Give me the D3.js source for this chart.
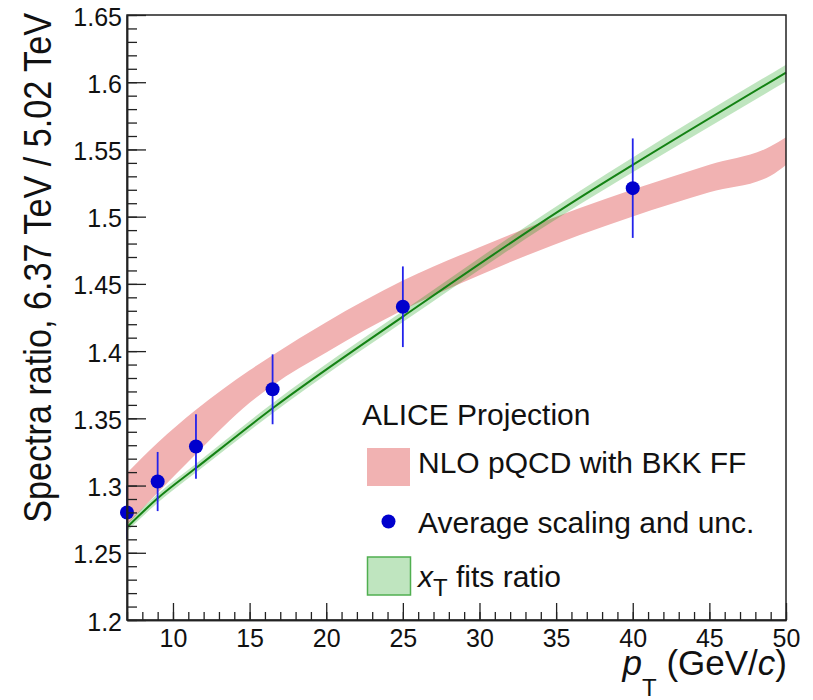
<!DOCTYPE html>
<html>
<head>
<meta charset="utf-8">
<script src="https://cdn.jsdelivr.net/npm/d3@7"></script>
<style>
  html, body { margin: 0; padding: 0; background: #fff; }
  svg { display: block; font-family: "Liberation Sans", Arial, Helvetica, sans-serif; }
</style>
</head>
<body>
<svg id="chart" width="813" height="700"></svg>
<script>
// Averaged scaling points with their uncertainties
const ptPoints    = [7, 9, 11.5, 16.5, 25, 40];
const ratioPoints = [1.280, 1.303, 1.329, 1.3716, 1.433, 1.5212];
const ratioErrors = [0.020, 0.022, 0.024, 0.026, 0.030, 0.037];

// NLO pQCD (BKK FF) band edges
const nloPt   = [7, 9, 11.5, 15, 16.5, 20, 25, 30, 36.5, 40, 45, 49, 50];
const nloHigh = [1.3094, 1.3318, 1.3563, 1.3857, 1.3970, 1.4215, 1.4525, 1.4773, 1.5062, 1.5202, 1.5387, 1.5523, 1.5590];
const nloLow  = [1.2707, 1.2947, 1.3235, 1.3615, 1.3745, 1.3990, 1.4305, 1.4565, 1.4862, 1.5002, 1.5182, 1.5305, 1.5385];

// xT fits ratio: central curve and its band
const xtPt   = [7, 9, 11.5, 16.5, 25, 36.5, 40, 50];
const xtMid  = [1.2690, 1.2905, 1.3130, 1.3575, 1.4257, 1.5138, 1.5385, 1.6072];
const xtHigh = [1.2720, 1.2937, 1.3163, 1.3612, 1.4298, 1.5188, 1.5440, 1.6130];
const xtLow  = [1.2660, 1.2873, 1.3097, 1.3538, 1.4216, 1.5088, 1.5330, 1.6005];

// Axis ticks
const xMajorTicks = [10, 15, 20, 25, 30, 35, 40, 45, 50];
const xMinorTicks = d3.range(7, 51, 1);
const yMajorTicks = [1.2, 1.25, 1.3, 1.35, 1.4, 1.45, 1.5, 1.55, 1.6, 1.65];
const yMinorTicks = d3.range(120, 166, 1).map(v => v / 100);

// Legend
const legendHeader = "ALICE Projection";
const legendLabels = ["NLO pQCD with BKK FF", "Average scaling and unc.", "fits ratio"];

const pinkFill   = "rgb(241,178,178)";
const greenFill  = "rgb(0,153,0)";
const greenLine  = "rgb(20,130,20)";
const markerCol  = "rgb(0,0,205)";
const errCol     = "rgb(35,35,235)";

const svg = d3.select("#chart");
const frame = { left: 127, right: 786, top: 15, bottom: 620 };

const x = d3.scaleLinear().domain([7, 50]).range([frame.left, frame.right]);
const y = d3.scaleLinear().domain([1.2, 1.65]).range([frame.bottom, frame.top]);

const plot = svg.append("g");

// NLO band
const nloData = nloPt.map((p, i) => ({ p, hi: nloHigh[i], lo: nloLow[i] }));
plot.append("path")
  .datum(nloData)
  .attr("fill", pinkFill)
  .attr("d", d3.area().curve(d3.curveMonotoneX)
    .x(d => x(d.p)).y0(d => y(d.lo)).y1(d => y(d.hi)));

// xT band (translucent) and central line
const xtData = xtPt.map((p, i) => ({ p, mid: xtMid[i], hi: xtHigh[i], lo: xtLow[i] }));
plot.append("path")
  .datum(xtData)
  .attr("fill", greenFill)
  .attr("fill-opacity", 0.25)
  .attr("d", d3.area().curve(d3.curveMonotoneX)
    .x(d => x(d.p)).y0(d => y(d.lo)).y1(d => y(d.hi)));
plot.append("path")
  .datum(xtData)
  .attr("fill", "none")
  .attr("stroke", greenLine)
  .attr("stroke-width", 2)
  .attr("d", d3.line().curve(d3.curveMonotoneX)
    .x(d => x(d.p)).y(d => y(d.mid)));

// Points with error bars
const pts = ptPoints.map((p, i) => ({ p, v: ratioPoints[i], e: ratioErrors[i] }));
plot.selectAll("line.err").data(pts).join("line")
  .attr("class", "err")
  .attr("x1", d => x(d.p)).attr("x2", d => x(d.p))
  .attr("y1", d => y(d.v - d.e)).attr("y2", d => y(d.v + d.e))
  .attr("stroke", errCol).attr("stroke-width", 1.8);
plot.selectAll("circle.pt").data(pts).join("circle")
  .attr("class", "pt")
  .attr("cx", d => x(d.p)).attr("cy", d => y(d.v)).attr("r", 7)
  .attr("fill", markerCol);

// Frame
svg.append("rect")
  .attr("x", frame.left).attr("y", frame.top)
  .attr("width", frame.right - frame.left).attr("height", frame.bottom - frame.top)
  .attr("fill", "none").attr("stroke", "#222").attr("stroke-width", 1.5);

// Axes with inward ticks
const fmt = d => String(+d.toFixed(2));
const xAxisMinor = svg.append("g").attr("transform", `translate(0,${frame.bottom})`)
  .call(d3.axisBottom(x).tickValues(xMinorTicks).tickSizeInner(-8).tickSizeOuter(0).tickFormat(""));
const xAxis = svg.append("g").attr("transform", `translate(0,${frame.bottom})`)
  .call(d3.axisBottom(x).tickValues(xMajorTicks).tickSizeInner(-17).tickSizeOuter(0).tickPadding(9).tickFormat(fmt));
const yAxisMinor = svg.append("g").attr("transform", `translate(${frame.left},0)`)
  .call(d3.axisLeft(y).tickValues(yMinorTicks).tickSizeInner(-10).tickSizeOuter(0).tickFormat(""));
const yAxis = svg.append("g").attr("transform", `translate(${frame.left},0)`)
  .call(d3.axisLeft(y).tickValues(yMajorTicks).tickSizeInner(-19).tickSizeOuter(0).tickPadding(5).tickFormat(fmt));

[xAxisMinor, xAxis, yAxisMinor, yAxis].forEach(g => {
  g.select(".domain").attr("stroke", "#222").attr("stroke-width", 1.5);
  g.selectAll(".tick line").attr("stroke", "#222").attr("stroke-width", 1.3);
  g.selectAll("text").attr("font-family", "Liberation Sans, Arial, sans-serif")
    .attr("font-size", 25).attr("fill", "#111");
});
yAxis.selectAll("text").attr("dy", "0.4em");

// Axis titles
svg.append("text")
  .attr("transform", "translate(51,13) rotate(-90) scale(0.9,1)")
  .attr("text-anchor", "end")
  .attr("font-size", 38)
  .attr("fill", "#111")
  .text("Spectra ratio, 6.37 TeV / 5.02 TeV");

const xt = svg.append("text")
  .attr("x", 787).attr("y", 675)
  .attr("text-anchor", "end")
  .attr("font-size", 35)
  .attr("fill", "#111");
xt.append("tspan").attr("font-style", "italic").text("p");
xt.append("tspan").attr("font-size", 24).attr("dy", 21).text("T");
xt.append("tspan").attr("dy", -21).text("\u00a0(GeV/");
xt.append("tspan").attr("font-style", "italic").text("c");
xt.append("tspan").text(")");

// Legend
const lg = svg.append("g").attr("font-size", 30).attr("fill", "#111");
lg.append("text").attr("x", 362).attr("y", 425).text(legendHeader);

lg.append("rect").attr("x", 367).attr("y", 448).attr("width", 43).attr("height", 38)
  .attr("fill", pinkFill);
lg.append("text").attr("x", 418).attr("y", 473).text(legendLabels[0]);

lg.append("circle").attr("cx", 388.5).attr("cy", 521.5).attr("r", 7).attr("fill", markerCol);
lg.append("text").attr("x", 418).attr("y", 533).text(legendLabels[1]);

lg.append("rect").attr("x", 367.5).attr("y", 557).attr("width", 43).attr("height", 38)
  .attr("fill", greenFill).attr("fill-opacity", 0.25)
  .attr("stroke", "rgb(80,175,80)").attr("stroke-width", 1.5);
const lt = lg.append("text").attr("x", 418).attr("y", 587);
lt.append("tspan").attr("font-style", "italic").text("x");
lt.append("tspan").attr("font-size", 24).attr("dy", 9).text("T");
lt.append("tspan").attr("dy", -9).text("\u00a0" + legendLabels[2]);
</script>
</body>
</html>
